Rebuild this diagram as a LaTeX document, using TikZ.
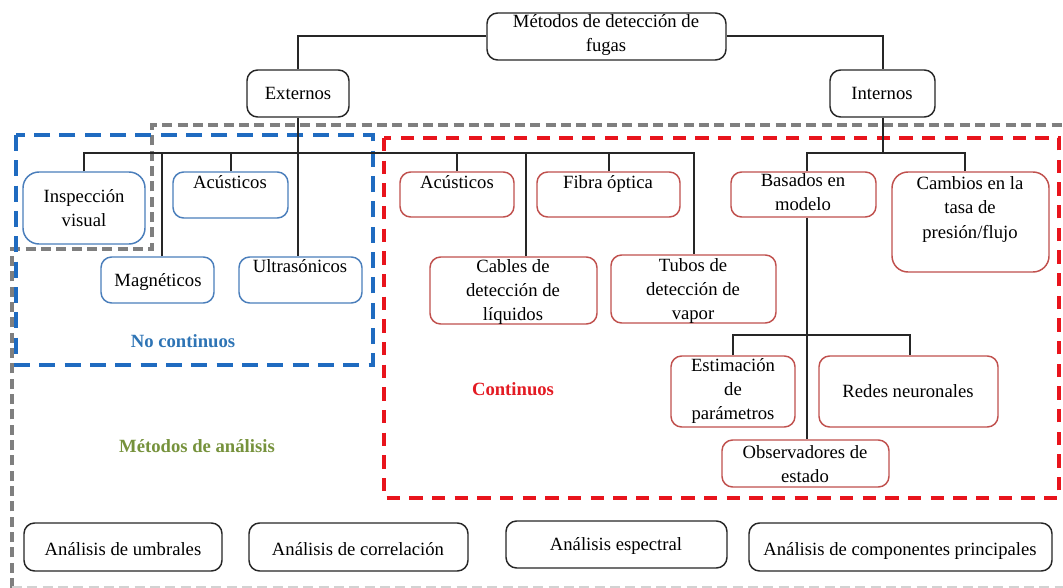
\documentclass[tikz,border=0pt]{standalone}
\usepackage{fontspec}
\setmainfont{Liberation Serif}
\usetikzlibrary{fit}
\definecolor{bbord}{HTML}{4A7EBB}
\definecolor{rbord}{HTML}{C0504D}
\definecolor{bdash}{HTML}{1F6BC0}
\definecolor{rdash}{HTML}{E8141C}
\definecolor{gdash}{HTML}{7F7F7F}
\definecolor{olivec}{HTML}{76923C}
\definecolor{btext}{HTML}{2E74B5}
\definecolor{rtext}{HTML}{E31B23}
\begin{document}
\begin{tikzpicture}[x=0.75pt,y=-0.75pt,
 nbox/.style={draw, rounded corners=8pt, line width=1.1pt, inner sep=0pt, fill=white},
 kbox/.style={nbox, draw=black!85},
 bbox/.style={nbox, draw=bbord},
 rbox/.style={nbox, draw=rbord},
 txt/.style={font=\fontsize{14}{18}\selectfont, align=center, anchor=base, inner sep=0pt},
 lbl/.style={txt, font=\fontsize{14}{18}\selectfont\bfseries},
 conn/.style={draw=black!85, line width=1.5pt},
 zone/.style={line width=3pt},
]
\useasboundingbox (0,0) rectangle (1063,588);
% dashed zones
\draw[zone, gdash, dash pattern=on 7.5pt off 4pt] (12,588) -- (12,249) -- (152,249) -- (152,125) -- (1070,125);
\draw[line width=1.2pt, gdash!35, dash pattern=on 7.5pt off 4pt] (12,587) -- (1063,587);
\draw[zone, bdash, dash pattern=on 12pt off 7pt] (16,135) rectangle (373,365);
\draw[zone, rdash, dash pattern=on 10pt off 7pt] (384,138) rectangle (1059,498);

% connector bus levels
\coordinate (busE) at (0,153);
\coordinate (busB) at (0,335);

% boxes
\node[kbox, fit={(487,13) (726,60)}] (root) {};
\node[kbox, fit={(247,70) (349,117)}] (ext) {};
\node[kbox, fit={(830,70) (935,117)}] (int) {};

\node[bbox, rounded corners=12pt, fit={(23,172) (145,244)}] (insp) {};
\node[bbox, fit={(173,172) (288,218)}] (acb) {};
\node[bbox, fit={(101,257) (214,303)}] (mag) {};
\node[bbox, fit={(239,257) (362,303)}] (ult) {};

\node[rbox, fit={(400,172) (514,217)}] (acr) {};
\node[rbox, fit={(537,172) (680,217)}] (fib) {};
\node[rbox, fit={(430,257) (597,324)}] (cab) {};
\node[rbox, fit={(611,255) (776,323)}] (tub) {};
\node[rbox, fit={(731,172) (876,217)}] (bas) {};
\node[rbox, rounded corners=12pt, fit={(892,172) (1049,272)}] (cam) {};
\node[rbox, fit={(671,356) (795,427)}] (est) {};
\node[rbox, fit={(819,356) (998,427)}] (red) {};
\node[rbox, fit={(722,440) (889,487)}] (obs) {};

\node[kbox, fit={(24,523) (222,571)}] (umb) {};
\node[kbox, fit={(249,523) (468,571)}] (cor) {};
\node[kbox, fit={(506,521) (727,568)}] (esp) {};
\node[kbox, fit={(749,523) (1052,571)}] (pca) {};

% connectors
\draw[conn] (root.west) -| (ext.north);
\draw[conn] (root.east) -| (int.north);
\draw[conn] (insp.north) |- (tub.north |- busE) -- (tub.north);
\draw[conn] (ext.south) -- (ext.south |- ult.north);
\draw[conn] (acb.north) -- (acb.north |- busE);
\draw[conn] ([xshift=3pt]mag.north) -- ([xshift=3pt]mag.north |- busE);
\draw[conn] (acr.north) -- (acr.north |- busE);
\draw[conn] ([xshift=9pt]cab.north) -- ([xshift=9pt]cab.north |- busE);
\draw[conn] (fib.north) -- (fib.north |- busE);
\draw[conn] (int.south) -- (int.south |- busE);
\draw[conn] ([xshift=2.6pt]bas.north) |- ([xshift=-4.5pt]cam.north |- busE) -- ([xshift=-4.5pt]cam.north);
\draw[conn] ([xshift=2.6pt]bas.south) -- ([xshift=2.6pt]bas.south |- obs.north);
\draw[conn] (est.north) |- ([xshift=1pt]red.north |- busB) -- ([xshift=1pt]red.north);

% texts (anchor=base is the baseline of the last line)
\node[txt] (troot) at (606,52) {Métodos de detección de\\fugas};
\node[txt] (text) at (298,100) {Externos};
\node[txt] (tint) at (882,100) {Internos};
\node[txt] (tinsp) at (84,226) {Inspección\\visual};
\node[txt] (tacb) at (230,188) {Acústicos};
\node[txt] (tmag) at (158,286) {Magnéticos};
\node[txt] (tult) at (300,272) {Ultrasónicos};
\node[txt] (tacr) at (457,188) {Acústicos};
\node[txt] (tfib) at (608,188) {Fibra óptica};
\node[txt] (tbas) at (803,210) {Basados en\\modelo};
\node[txt] (tcam) at (970,238) {Cambios en la\\tasa de\\presión/flujo};
\node[txt] (tcab) at (513,320) {Cables de\\detección de\\líquidos};
\node[txt] (ttub) at (693,319) {Tubos de\\detección de\\vapor};
\node[txt] (test) at (733,419) {Estimación\\de\\parámetros};
\node[txt] (tred) at (908,397) {Redes neuronales};
\node[txt] (tobs) at (805,482) {Observadores de\\estado};
\node[txt] (tumb) at (123,555) {Análisis de umbrales};
\node[txt] (tcor) at (358,555) {Análisis de correlación};
\node[txt] (tesp) at (616,550) {Análisis espectral};
\node[txt] (tpca) at (900,555) {Análisis de componentes principales};

\node[lbl, text=btext] (lnc) at (183,347) {No continuos};
\node[lbl, text=rtext] (lc) at (513,395) {Continuos};
\node[lbl, text=olivec] (lma) at (197,452) {Métodos de análisis};
\end{tikzpicture}
\end{document}
